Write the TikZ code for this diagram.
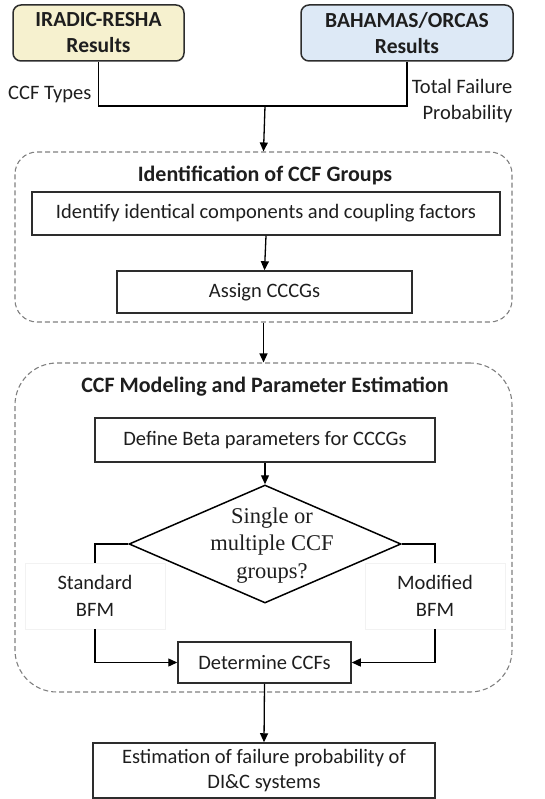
\documentclass[tikz,border=0pt]{standalone}
\usepackage{fontspec}
\setmainfont{Carlito}
\newfontfamily\timesf{Liberation Serif}
\usetikzlibrary{shapes.geometric,arrows.meta}
\definecolor{yellowfill}{RGB}{246,241,207}
\definecolor{bluefill}{RGB}{221,233,246}
\definecolor{boxline}{RGB}{45,45,45}
\definecolor{dashgray}{RGB}{128,128,128}
\definecolor{txt}{RGB}{30,30,30}
\begin{document}
\begin{tikzpicture}[x=1pt,y=-1pt,
  every node/.style={text=txt},
  srcbox/.style={draw=boxline,line width=1.5pt,rounded corners=8pt,inner sep=0pt,
     align=center,font=\fontsize{21.5}{26}\selectfont\bfseries},
  stepbox/.style={draw=boxline,line width=1.5pt,inner sep=0pt,align=center,
     font=\fontsize{20.5}{25}\selectfont},
  groupbox/.style={draw=dashgray,line width=1.1pt,dash pattern=on 5pt off 3pt,inner sep=0pt},
  grouptitle/.style={font=\fontsize{22}{26}\selectfont\bfseries},
  lbl/.style={font=\fontsize{20.5}{26.5}\selectfont,align=center},
  wlbl/.style={lbl,fill=white,draw=black!5,line width=0.4pt,inner sep=0pt},
  conn/.style={draw=black,line width=1.3pt},
  arr/.style={conn,-{Triangle[length=9pt,width=8pt]}}
]
\useasboundingbox (0,0) rectangle (545,799);

% source boxes
\node[srcbox,fill=yellowfill,minimum width=171pt,minimum height=56pt] (ira) at (98.5,33) {IRADIC-RESHA\\Results};
\node[srcbox,fill=bluefill,minimum width=212pt,minimum height=56pt] (bah) at (407,33) {BAHAMAS/ORCAS\\Results};
\coordinate (j) at (265,106);

% group 1
\node[groupbox,rounded corners=22pt,minimum width=497pt,minimum height=170pt] (g1) at (263.5,237) {};
\node[grouptitle] (t1) at (265,175) {Identification of CCF Groups};
\node[stepbox,minimum width=468pt,minimum height=43pt] (idf) at (266,213.5) {Identify identical components and coupling factors};
\node[stepbox,minimum width=295pt,minimum height=42pt] (asg) at (264.5,292) {Assign CCCGs};

% group 2
\node[groupbox,rounded corners=42pt,minimum width=497pt,minimum height=329pt] (g2) at (263.5,527.5) {};
\node[grouptitle] (t2) at (265,387) {CCF Modeling and Parameter Estimation};
\node[stepbox,minimum width=340pt,minimum height=44pt] (def) at (265,440) {Define Beta parameters for CCCGs};
\node[diamond,draw=black,line width=1.5pt,inner sep=0pt,minimum width=272pt,minimum height=118pt] (dia) at (265,544) {};
\node[font=\timesf\fontsize{22.5}{27.5}\selectfont,align=center] (diatxt) at (272,545.5) {Single or\\multiple CCF\\groups?};
\node[wlbl,minimum width=140pt,minimum height=66pt] (lblS) at (95,596) {Standard\\BFM};
\node[wlbl,minimum width=140pt,minimum height=66pt] (lblM) at (435,596) {Modified\\BFM};
\node[stepbox,minimum width=173pt,minimum height=41pt] (det) at (264.5,662.5) {Determine CCFs};

% final
\node[stepbox,minimum width=342pt,minimum height=55pt] (est) at (264,770.5) {Estimation of failure probability of\\DI\&C systems};

% labels on the top connectors
\node[lbl,anchor=east] (lccf) at (95,95) {CCF Types};
\node[lbl,anchor=east,align=right] (ltot) at (516,101) {Total Failure\\Probability};

% connectors
\draw[conn] (ira.south) |- (j);
\draw[conn] (bah.south) |- (j);
\draw[arr] (j) -- (g1.north);
\draw[arr] (idf.south) -- (asg.north);
\draw[arr] (g1.south) -- (g2.north);
\draw[arr] (def.south) -- (dia.north);
\draw[conn] (dia.west) -| (lblS.north);
\draw[arr] (lblS.south) |- (det.west);
\draw[conn] (dia.east) -| (lblM.north);
\draw[arr] (lblM.south) |- (det.east);
\draw[arr] (det.south) -- (est.north);
\end{tikzpicture}
\end{document}
